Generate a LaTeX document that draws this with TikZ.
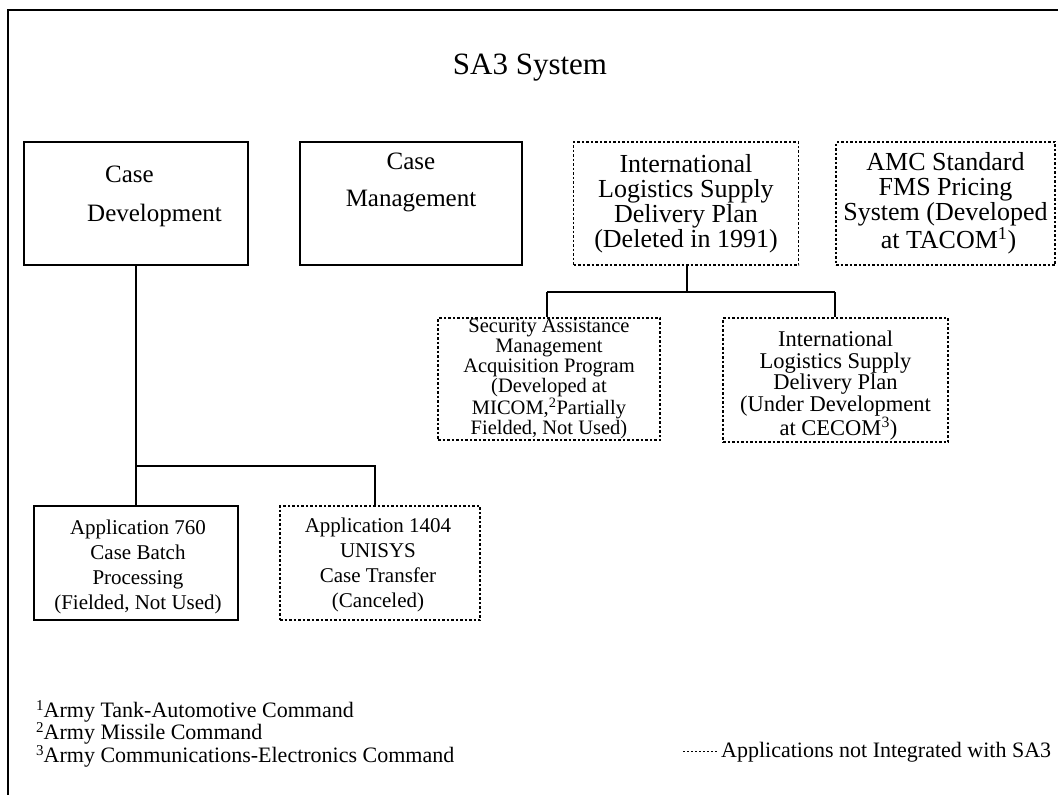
\documentclass[tikz,border=0pt]{standalone}
\usepackage{fontspec}
\setmainfont{Liberation Serif}
\begin{document}
\begin{tikzpicture}[x=1pt,y=-1pt,
  solidbox/.style={draw, line width=1.5pt, inner sep=0pt, align=center},
  dotbox/.style={draw, line width=1.2pt, dash pattern=on 2.5pt off 2pt, inner sep=0pt, align=center},
  conn/.style={line width=1.5pt},
  frameline/.style={line width=2pt},
  plain/.style={inner sep=0pt, align=left}
]
\useasboundingbox (0,0) rectangle (1058,795);
% page frame (top and left edges)
\coordinate (f0) at (8,795);
\coordinate (f1) at (8,10);
\coordinate (f2) at (1058,10);
\draw[frameline] (f0) -- (f1) -- (f2);

\node[inner sep=0pt, font=\fontsize{31}{36}\selectfont] (title) at (530,68) {SA3 System};

% top row
\node[solidbox, minimum width=224pt, minimum height=123pt] (cd) at (136,203.5) {};
\node[plain, anchor=north west, font=\fontsize{25}{39}\selectfont] (cdt) at (87,166)
  {\hspace*{18pt}Case\\Development};
\node[solidbox, minimum width=222pt, minimum height=123pt,
      font=\fontsize{25}{37}\selectfont] (cm) at (411,203.5)
  {Case\\Management\\[10pt]};
\node[dotbox, minimum width=225pt, minimum height=123pt,
      font=\fontsize{26}{25}\selectfont] (il) at (686,203.5)
  {International\\Logistics Supply\\Delivery Plan\\(Deleted in 1991)};
\node[dotbox, minimum width=219pt, minimum height=123pt,
      font=\fontsize{26}{25}\selectfont] (amc) at (945.5,203.5)
  {AMC Standard\\FMS Pricing\\System (Developed\\ \hspace*{6pt}at TACOM\textsuperscript{1})};

% second row
\node[dotbox, minimum width=222pt, minimum height=122pt,
      font=\fontsize{20.5}{19.8}\selectfont] (sam) at (549,379)
  {Security Assistance\\Management\\Acquisition Program\\(Developed at\\MICOM,\textsuperscript{2}Partially\\Fielded, Not Used)};
\node[dotbox, minimum width=225pt, minimum height=124pt] (cec) at (835.5,380) {};
\node[inner sep=0pt, align=center, anchor=south, font=\fontsize{22.5}{21.5}\selectfont] (cect) at (835.5,440)
  {International\\Logistics Supply\\Delivery Plan\\(Under Development\\ \hspace*{6pt}at CECOM\textsuperscript{3})};

% bottom row
\node[solidbox, minimum width=204pt, minimum height=114pt] (a760) at (136,563) {};
\node[inner sep=0pt, align=center, font=\fontsize{21}{25}\selectfont] (a760t) at (138,567)
  {Application 760\\Case Batch\\Processing\\(Fielded, Not Used)};
\node[dotbox, minimum width=200pt, minimum height=114pt] (a1404) at (380,563) {};
\node[inner sep=0pt, align=center, font=\fontsize{21}{25}\selectfont] (a1404t) at (378,565)
  {Application 1404\\UNISYS\\Case Transfer\\(Canceled)};

% connectors
\coordinate (j1) at (136,466);
\coordinate (j2) at (375,466);
\draw[conn] (cd.south) -- (j1) -- (a760.north);
\draw[conn] (j1) -- (j2) -- (j2 |- a1404.north);

\coordinate (k0) at (687,292);
\coordinate (k1) at (547,292);
\coordinate (k2) at (835,292);
\draw[conn] (il.south -| k0) -- (k0);
\draw[conn] (k1) -- (k2);
\draw[conn] (k1) -- (k1 |- sam.north);
\draw[conn] (k2) -- (k2 |- cec.north);

% footnotes
\node[plain, anchor=north west, font=\fontsize{22}{22.5}\selectfont] (fn) at (36,700)
  {\raisebox{7pt}{\fontsize{15}{15}\selectfont 1}Army Tank-Automotive Command\\
   \raisebox{7pt}{\fontsize{15}{15}\selectfont 2}Army Missile Command\\
   \raisebox{7pt}{\fontsize{15}{15}\selectfont 3}Army Communications-Electronics Command};

% legend
\coordinate (l1) at (683,751);
\coordinate (l2) at (717,751);
\draw[line width=1pt, dash pattern=on 2pt off 2pt] (l1) -- (l2);
\node[plain, anchor=west, font=\fontsize{22}{24}\selectfont] (leg) at (721,752)
  {Applications not Integrated with SA3};
\end{tikzpicture}
\end{document}
